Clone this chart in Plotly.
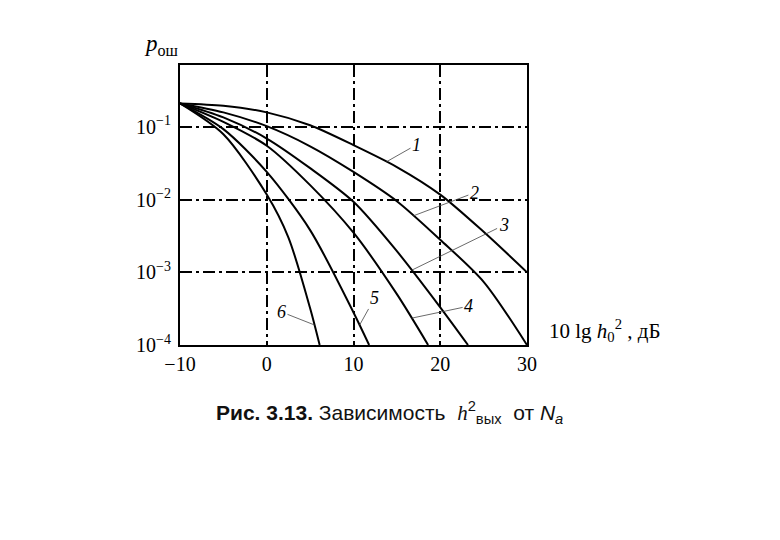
import numpy as np
import plotly.graph_objects as go

# ---- data (x: 10 lg h0^2, dB ; y: p_ош) ----
x1 = [-10, -5, 0, 5, 10, 15, 20, 25, 30]
p1 = [0.21, 0.195, 0.158, 0.105, 0.056, 0.028, 0.0117, 0.0036, 0.001]

x2 = [-10, -5, 0, 5, 10, 15, 20, 25, 30]
p2 = [0.21, 0.158, 0.102, 0.054, 0.024, 0.0095, 0.0028, 0.00074, 0.0001]

x3 = [-10, -5, 0, 5, 10, 15, 20, 23.2]
p3 = [0.21, 0.135, 0.069, 0.027, 0.0093, 0.00195, 0.00033, 0.0001]

x4 = [-10, -5, 0, 5, 10, 15, 18.6]
p4 = [0.21, 0.117, 0.055, 0.0158, 0.0035, 0.0005, 0.0001]

x5 = [-10, -5, 0, 5, 10, 11.8]
p5 = [0.21, 0.093, 0.024, 0.0038, 0.00028, 0.0001]

x6 = [-10, -5, 0, 2.5, 5, 6.1]
p6 = [0.21, 0.079, 0.0117, 0.0030, 0.00032, 0.0001]

curve_names = ["1", "2", "3", "4", "5", "6"]
label_x = [13.8, 16.9, 16.7, 16.7, 10.7, 5.5]        # where each leader touches its curve
label_off = [(30, -17), (61, -23), (92, -45), (57, -12), (15, -27), (-33, -13)]

x_ticks = [-10, 0, 10, 20, 30]
x_ticktext = ["\u221210", "0", "10", "20", "30"]
y_ticks = [1e-1, 1e-2, 1e-3, 1e-4]
y_ticktext = ["10<sup>\u22121</sup>", "10<sup>\u22122</sup>", "10<sup>\u22123</sup>", "10<sup>\u22124</sup>"]

xs = [x1, x2, x3, x4, x5, x6]
ps = [p1, p2, p3, p4, p5, p6]

SERIF = "Liberation Serif, Times New Roman, serif"
SANS = "Liberation Sans, Arial, sans-serif"

fig = go.Figure()
for name, x, p in zip(curve_names, xs, ps):
    fig.add_trace(go.Scatter(x=x, y=p, mode="lines", name=name,
                             line=dict(color="black", width=2, shape="spline", smoothing=0.8),
                             showlegend=False, hoverinfo="skip"))

for name, x, p, lx, (ax, ay) in zip(curve_names, xs, ps, label_x, label_off):
    ly = float(np.interp(lx, x, np.log10(p)))
    fig.add_annotation(x=lx, y=ly, xref="x", yref="y", text="<i>%s</i>" % name,
                       showarrow=True, arrowhead=0, arrowwidth=0.8, arrowcolor="#444",
                       ax=ax, ay=ay, font=dict(family=SERIF, size=18, color="black"))

fig.update_xaxes(range=[-10, 30], tickvals=x_ticks, ticktext=x_ticktext,
                 showgrid=True, gridcolor="black", gridwidth=1.5, griddash="12px,4px,3px,4px",
                 showline=True, linecolor="black", linewidth=2, mirror=True,
                 ticks="", zeroline=False,
                 tickfont=dict(family=SERIF, size=20, color="black"))
fig.update_yaxes(type="log", range=[-4, -0.15], tickvals=y_ticks, ticktext=y_ticktext,
                 showgrid=True, gridcolor="black", gridwidth=1.5, griddash="12px,4px,3px,4px",
                 showline=True, linecolor="black", linewidth=2, mirror=True,
                 ticks="", zeroline=False, ticklabelstandoff=3,
                 tickfont=dict(family=SERIF, size=20, color="black"))

# axis titles
fig.add_annotation(xref="paper", yref="paper", x=-0.11, y=1.13, showarrow=False,
                   text="<i>p</i><sub>ош</sub>", font=dict(family=SERIF, size=23, color="black"))
fig.add_annotation(xref="paper", yref="paper", x=1.058, y=-0.008, xanchor="left", showarrow=False,
                   text="10 lg <i>h</i><sub>0</sub><sup>2</sup> , дБ",
                   font=dict(family=SERIF, size=21, color="black"))
# caption
fig.add_annotation(xref="paper", yref="paper", x=0.605, y=-0.30, showarrow=False,
                   text="<b>Рис. 3.13.</b> Зависимость  "
                        "<span style='font-family:Liberation Serif'><i>h</i></span><sup>2</sup><sub>вых</sub>"
                        "  от <i>N<sub>a</sub></i>",
                   font=dict(family=SANS, size=21, color="#111"))

fig.update_layout(width=780, height=540, autosize=False,
                  margin=dict(l=172, r=261, t=57, b=203),
                  paper_bgcolor="white", plot_bgcolor="white")

fig.write_html("out.html")
